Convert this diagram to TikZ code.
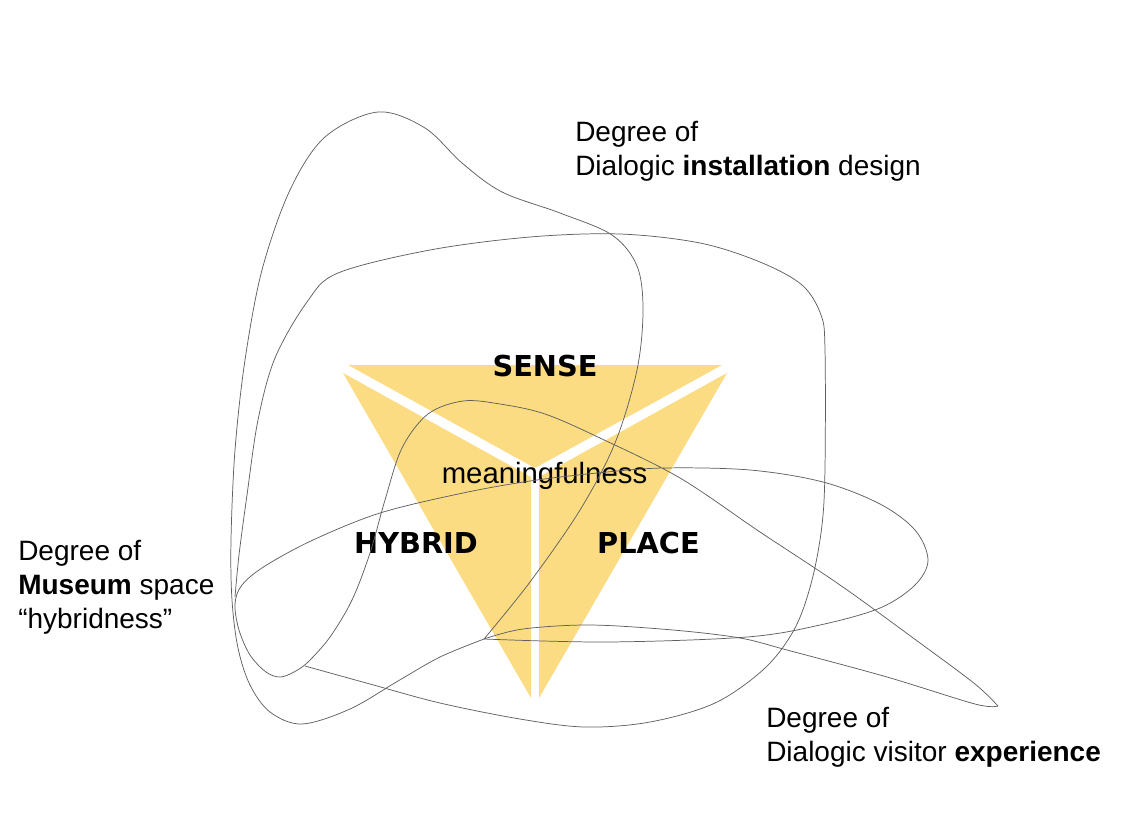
\documentclass[tikz,border=0pt]{standalone}
\usepackage{fontspec}
\setmainfont{Liberation Sans}
\newfontfamily\vfont{DejaVu Sans}
\definecolor{triyellow}{RGB}{251,220,130}
\definecolor{linegray}{RGB}{95,95,95}
\tikzset{
  tri/.style={fill=triyellow},
  curve/.style={draw=linegray, line width=0.55pt},
  bigword/.style={font=\vfont\bfseries\fontsize{21.6pt}{26pt}\selectfont, inner sep=0, anchor=base},
  midword/.style={font=\fontsize{22pt}{26pt}\selectfont, inner sep=0, anchor=base},
  lab/.style={font=\fontsize{21pt}{25pt}\selectfont, inner sep=0, anchor=base west}
}
\begin{document}
\begin{tikzpicture}[x=0.75pt,y=-0.75pt]
\useasboundingbox (0,0) rectangle (1148,818);
\fill[white] (0,0) rectangle (1148,818);
% triangle pieces
\fill[tri] (348,365) -- (722,365) -- (535,468) -- cycle;
\fill[tri] (343,373) -- (531,477) -- (531,698) -- cycle;
\fill[tri] (727,373) -- (539,477) -- (539,698) -- cycle;
% labels inside triangle
\node[bigword] (sense) at (545,376) {SENSE};
\node[bigword] (hybrid) at (416,553) {HYBRID};
\node[bigword] (place) at (648.5,553) {PLACE};
\node[midword] (mean) at (544.5,483) {meaningfulness};
% installation design curve (tall)
\draw[curve] plot[smooth, tension=0.55] coordinates {(484,639) (440,657) (398,681) (350,709) (302,724) (270,712) (250,685) (238,648) (232,600) (231,540) (235,450) (245,360) (262,270) (290,190) (325,137) (378,112) (425,128) (462,163) (502,192) (560,213) (612,235) (637,266) (643,310) (637,370) (615,443) (580,510) (530,582) (484,639)};
% rounded square curve
\draw[curve] plot[smooth, tension=0.55] coordinates {(235,597) (239,555) (247,495) (258,420) (275,358) (307,302) (338,273) (430,250) (530,237) (620,234) (700,243) (760,262) (802,285) (821,315) (825,350) (825,467) (822,525) (812,580) (795,628) (765,668) (715,703) (650,722) (585,727) (520,719) (440,703) (370,684) (305,666)};
% museum space + visitor experience curve
\draw[curve] plot[smooth, tension=0.55] coordinates {(484,639) (607,642) (747,637) (820,625) (880,608) (915,585) (928,560) (915,530) (880,504) (823,482) (750,470) (663,468) (597,473) (530,481) (463,493) (380,513) (313,540) (265,566) (242,585) (235,604) (239,630) (250,655) (266,672) (280,677) (294,672) (308,662) (330,637) (352,600) (370,553) (385,500) (402,448) (428,414) (463,401) (500,404) (545,414) (600,438) (680,478) (760,532) (840,585) (920,643) (975,684) (998,706)};
\draw[curve] plot[smooth, tension=0.55] coordinates {(998,706) (975,704) (887,677) (787,650) (740,638) (673,630) (590,625) (523,629) (484,639)};
% outer labels
\node[lab] (t1) at (575,141) {Degree of};
\node[lab] (t2) at (575,175) {Dialogic \textbf{installation} design};
\node[lab] (l1) at (18,560) {Degree of};
\node[lab] (l2) at (18,594) {\textbf{Museum} space};
\node[lab] (l3) at (18,628) {“hybridness”};
\node[lab] (b1) at (766,727) {Degree of};
\node[lab] (b2) at (766,761) {Dialogic visitor \textbf{experience}};
\end{tikzpicture}
\end{document}
